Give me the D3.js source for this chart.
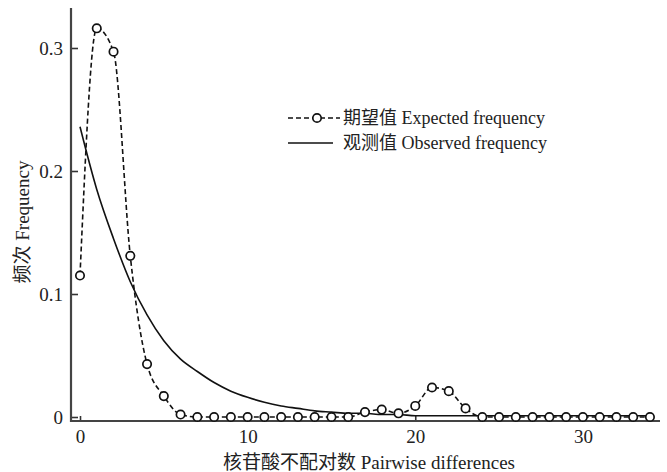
<!DOCTYPE html>
<head>
  <meta charset="utf-8">
  <script src="https://d3js.org/d3.v7.min.js"></script>
  <style>
    body { margin:0; background:#fff; }
    text { font-family: "Liberation Serif", "Times New Roman", "Noto Sans CJK SC", serif; fill:#222; }
  </style>
</head>
<body>
<script>
// pairwise differences 0..34
var diffs = d3.range(0, 35);

// 期望值 Expected frequency (dashed + circles)
var expected = [0.115, 0.316, 0.297, 0.131, 0.043, 0.017, 0.002, 0, 0, 0,
                0, 0, 0, 0, 0, 0, 0, 0.004, 0.006, 0.003,
                0.009, 0.024, 0.021, 0.007, 0, 0, 0, 0, 0, 0,
                0, 0, 0, 0, 0];

// 观测值 Observed frequency (solid)
var observed = [0.236, 0.185, 0.145, 0.110, 0.083, 0.062, 0.047, 0.037, 0.028, 0.021,
                0.016, 0.012, 0.009, 0.007, 0.005, 0.004, 0.003, 0.003, 0.002, 0.002,
                0.001, 0.001, 0.001, 0.001, 0.001, 0.001, 0.001, 0.001, 0.001, 0.001,
                0.001, 0.001, 0.001, 0.001, 0.001];

var xTicks = [0, 10, 20, 30];
var yTicks = [0, 0.1, 0.2, 0.3];

var width = 667, height = 472;

var svg = d3.select("body").append("svg")
  .attr("width", width)
  .attr("height", height);

var x = d3.scaleLinear().domain([0, 34.6]).range([80, 660]);
var y = d3.scaleLinear().domain([0, 0.3]).range([417, 48]);

var axisX = 71, axisY = 421;

// y axis
var yAxis = d3.axisRight(y).tickValues(yTicks).tickSize(7)
  .tickFormat(function(d){ return d === 0 ? "0" : d3.format(".1f")(d); });
var gy = svg.append("g").attr("transform", "translate(" + axisX + ",0)").call(yAxis);
gy.select(".domain").remove();
gy.selectAll("line").attr("stroke", "#333").attr("stroke-width", 1.6);
gy.selectAll("text").attr("x", -8).attr("text-anchor", "end")
  .style("font-size", "19px").attr("dy", "0.34em");

// x axis
var xAxis = d3.axisTop(x).tickValues(xTicks).tickSize(5);
var gx = svg.append("g").attr("transform", "translate(0," + axisY + ")").call(xAxis);
gx.select(".domain").remove();
gx.selectAll("line").attr("stroke", "#333").attr("stroke-width", 1.6);
gx.selectAll("text").attr("y", 9).attr("dy", "0.71em")
  .style("font-size", "19px");

svg.append("line")
  .attr("x1", axisX).attr("x2", axisX).attr("y1", 8).attr("y2", axisY + 1)
  .attr("stroke", "#444").attr("stroke-width", 2.2);
svg.append("line")
  .attr("x1", axisX).attr("x2", 660).attr("y1", axisY).attr("y2", axisY)
  .attr("stroke", "#444").attr("stroke-width", 2.2);

// lines
var line = d3.line()
  .x(function(d, i){ return x(diffs[i]); })
  .y(function(d){ return y(d); })
  .curve(d3.curveMonotoneX);

svg.append("path")
  .datum(observed)
  .attr("d", line)
  .attr("fill", "none")
  .attr("stroke", "#111")
  .attr("stroke-width", 1.6);

svg.append("path")
  .datum(expected)
  .attr("d", line)
  .attr("fill", "none")
  .attr("stroke", "#111")
  .attr("stroke-width", 1.6)
  .attr("stroke-dasharray", "5,3");

svg.selectAll(".pt")
  .data(expected)
  .enter().append("circle")
  .attr("class", "pt")
  .attr("cx", function(d, i){ return x(diffs[i]); })
  .attr("cy", function(d){ return y(d); })
  .attr("r", 4.2)
  .attr("fill", "#fff")
  .attr("stroke", "#111")
  .attr("stroke-width", 1.7);

// legend
var lg = svg.append("g");
lg.append("line").attr("x1", 288).attr("x2", 340).attr("y1", 118).attr("y2", 118)
  .attr("stroke", "#111").attr("stroke-width", 1.6).attr("stroke-dasharray", "5,3");
lg.append("circle").attr("cx", 317).attr("cy", 118).attr("r", 4.2)
  .attr("fill", "#fff").attr("stroke", "#111").attr("stroke-width", 1.7);
lg.append("text").attr("x", 343).attr("y", 118).attr("dy", "0.35em")
  .style("font-size", "18px").text("期望值 Expected frequency");

lg.append("line").attr("x1", 288).attr("x2", 333).attr("y1", 143).attr("y2", 143)
  .attr("stroke", "#111").attr("stroke-width", 1.6);
lg.append("text").attr("x", 343).attr("y", 143).attr("dy", "0.35em")
  .style("font-size", "18px").text("观测值 Observed frequency");

// axis titles
svg.append("text")
  .attr("x", 369).attr("y", 462).attr("dy", "0.35em")
  .attr("text-anchor", "middle")
  .style("font-size", "19px")
  .text("核苷酸不配对数 Pairwise differences");

svg.append("text")
  .attr("transform", "translate(22,222) rotate(-90)")
  .attr("text-anchor", "middle")
  .attr("dy", "0.35em")
  .style("font-size", "19px")
  .text("频次 Frequency");
</script>
</body>
